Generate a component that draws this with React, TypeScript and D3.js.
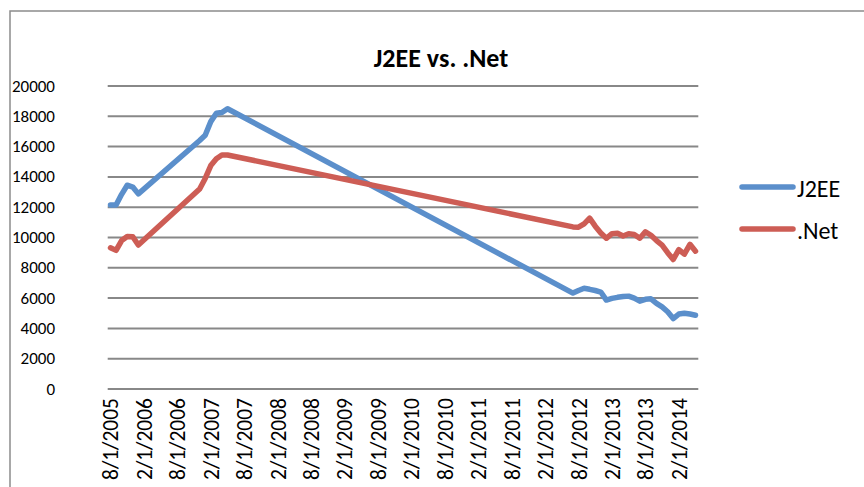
import React from "react";
import * as d3 from "d3";

// monthly observations (first day of month); gaps are joined by straight lines
const months = [
    "2005-08-01", "2005-09-01", "2005-10-01", "2005-11-01", "2005-12-01", "2006-01-01",
    "2006-12-01", "2007-01-01", "2007-02-01", "2007-03-01", "2007-04-01", "2007-05-01",
    "2012-07-01", "2012-08-01", "2012-09-01", "2012-10-01", "2012-11-01", "2012-12-01",
    "2013-01-01", "2013-02-01", "2013-03-01", "2013-04-01", "2013-05-01", "2013-06-01",
    "2013-07-01", "2013-08-01", "2013-09-01", "2013-10-01", "2013-11-01", "2013-12-01",
    "2014-01-01", "2014-02-01", "2014-03-01", "2014-04-01", "2014-05-01",
];

const j2ee = [
    12150, 12150, 12850, 13450, 13330, 12880,
    16400, 16750, 17650, 18200, 18250, 18500,
    6330, 6500, 6650, 6580, 6500, 6400,
    5870, 5980, 6050, 6100, 6130, 6000,
    5800, 5920, 5950, 5650, 5420, 5100,
    4650, 4950, 5000, 4950, 4870,
];

const dotNet = [
    9320, 9150, 9800, 10070, 10050, 9500,
    13200, 13900, 14750, 15200, 15450, 15450,
    10700, 10680, 10900, 11280, 10750, 10300,
    9950, 10250, 10280, 10100, 10250, 10200,
    9950, 10380, 10150, 9800, 9500, 9000,
    8550, 9200, 8900, 9550, 9100,
];

const yTicks = [0, 2000, 4000, 6000, 8000, 10000, 12000, 14000, 16000, 18000, 20000];

const seriesNames = ["J2EE", ".Net"];
const seriesColors = ["#5B8FCB", "#CD5D55"];

const W = 864;
const H = 487;
const FONT = "Carlito, Lato, sans-serif";

const App: React.FC = () => {
    const parse = d3.timeParse("%Y-%m-%d");
    const start = parse("2005-08-01")!;
    const end = parse("2014-05-01")!;
    const dates = months.map((m) => parse(m)!);
    const idx = (d: Date) => d3.timeMonth.count(start, d);
    const nSlots = idx(end) + 1;

    // date axis: each month is one slot, points centred in the slot
    const x = d3.scaleLinear().domain([-0.5, nSlots - 0.5]).range([107.7, 698.3]);
    const y = d3.scaleLinear().domain([0, 20000]).range([389, 86]);

    // major unit: 6 months, starting at the first date
    const tickDates = d3.range(0, nSlots, 6).map((i) => d3.timeMonth.offset(start, i));
    const fmt = (d: Date) => `${d.getMonth() + 1}/${d.getDate()}/${d.getFullYear()}`;

    const line = d3
        .line<number>()
        .x((_, i) => x(idx(dates[i])))
        .y((v) => y(v));

    const series = [j2ee, dotNet];

    return (
        <svg
            width={W}
            height={H}
            style={{ position: "absolute", left: 0, top: 0, background: "#fff" }}
        >
            {/* chart frame */}
            <rect x={10} y={11} width={W} height={H} fill="#fff" stroke="#8c8c8c" strokeWidth={1.5} />

            {/* title */}
            <text
                x={441}
                y={67}
                textAnchor="middle"
                fontFamily={FONT}
                fontWeight="bold"
                fontSize={26}
                fill="#000"
            >
                J2EE vs. .Net
            </text>

            {/* gridlines + y labels */}
            {yTicks.map((t) => (
                <g key={t}>
                    <line x1={x.range()[0]} x2={x.range()[1]} y1={y(t)} y2={y(t)} stroke="#888" strokeWidth={2} />
                    <text
                        x={55}
                        y={y(t)}
                        textAnchor="end"
                        dominantBaseline="central"
                        fontFamily={FONT}
                        fontSize={17}
                        fill="#000"
                    >
                        {t}
                    </text>
                </g>
            ))}

            {/* x labels */}
            {tickDates.map((d) => (
                <text
                    key={d.getTime()}
                    transform={`translate(${x(idx(d)) + 1},398) rotate(-90)`}
                    textAnchor="end"
                    dominantBaseline="central"
                    fontFamily={FONT}
                    fontSize={21.5}
                    fill="#000"
                >
                    {fmt(d)}
                </text>
            ))}

            {/* lines */}
            {series.map((s, k) => (
                <path
                    key={seriesNames[k]}
                    d={line(s)!}
                    fill="none"
                    stroke={seriesColors[k]}
                    strokeWidth={5.5}
                    strokeLinejoin="round"
                    strokeLinecap="round"
                />
            ))}

            {/* legend */}
            {seriesNames.map((name, k) => (
                <g key={name} transform={`translate(740,${187 + k * 42})`}>
                    <line x1={2} x2={53} y1={0} y2={0} stroke={seriesColors[k]} strokeWidth={5.5} strokeLinecap="round" />
                    <text
                        x={57}
                        y={1}
                        dominantBaseline="central"
                        fontFamily={FONT}
                        fontSize={24}
                        fill="#000"
                    >
                        {name}
                    </text>
                </g>
            ))}
        </svg>
    );
};

export default App;
